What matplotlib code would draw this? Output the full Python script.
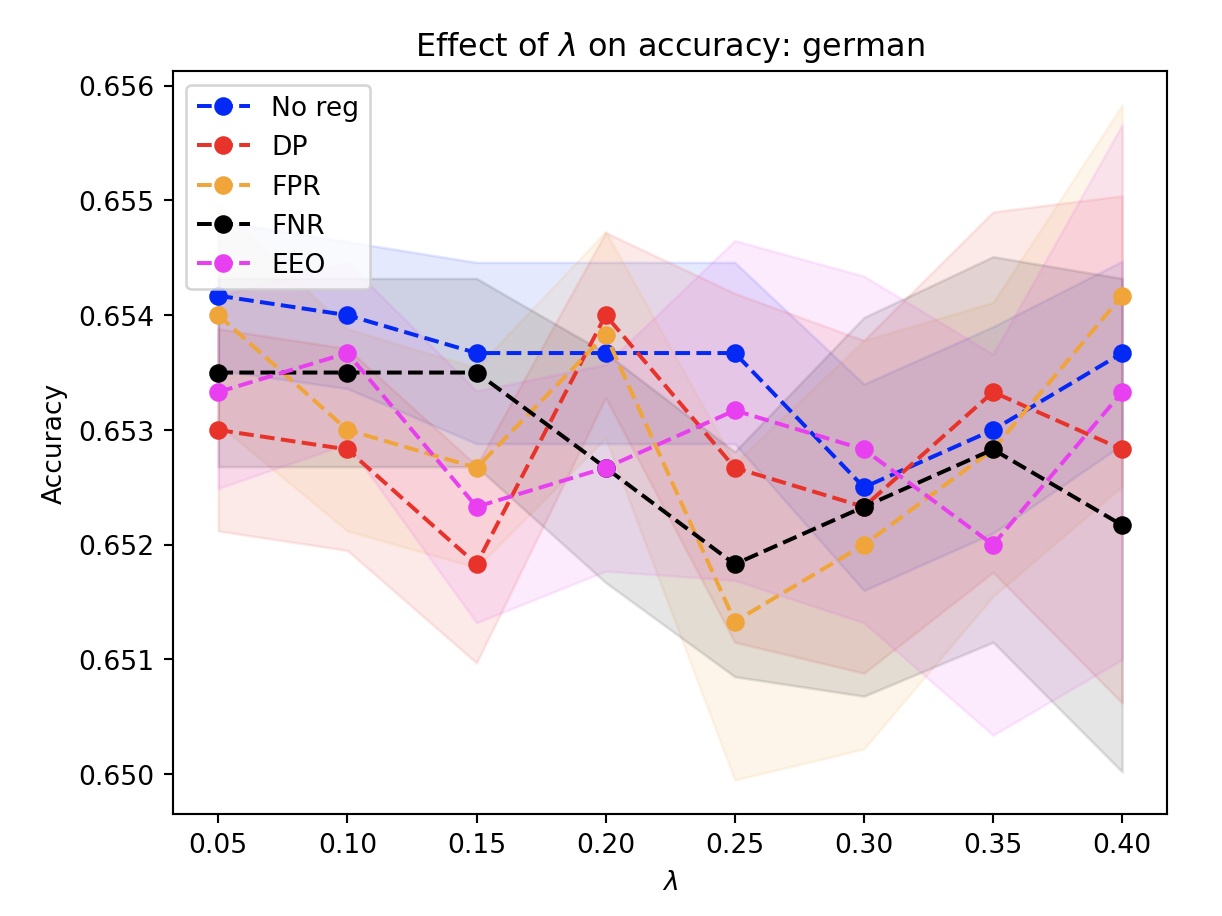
import matplotlib
matplotlib.use("Agg")
import numpy as np
from matplotlib import pyplot as plt

# lambda values and per-method mean / std of accuracy
lambdas = [0.05, 0.10, 0.15, 0.20, 0.25, 0.30, 0.35, 0.40]

noreg_mean = [0.65417, 0.65400, 0.65367, 0.65367, 0.65367, 0.65250, 0.65300, 0.65367]
noreg_std = [0.00065, 0.00064, 0.00079, 0.00079, 0.00079, 0.00090, 0.00090, 0.00080]

dp_mean = [0.65300, 0.65283, 0.65183, 0.65400, 0.65267, 0.65233, 0.65333, 0.65283]
dp_std = [0.00088, 0.00088, 0.00086, 0.00072, 0.00152, 0.00145, 0.00157, 0.00221]

fpr_mean = [0.65400, 0.65300, 0.65267, 0.65383, 0.65133, 0.65200, 0.65283, 0.65417]
fpr_std = [0.00095, 0.00088, 0.00087, 0.00090, 0.00138, 0.00178, 0.00128, 0.00166]

fnr_mean = [0.65350, 0.65350, 0.65350, 0.65267, 0.65183, 0.65233, 0.65283, 0.65217]
fnr_std = [0.00082, 0.00082, 0.00082, 0.00100, 0.00098, 0.00165, 0.00168, 0.00215]

eeo_mean = [0.65333, 0.65367, 0.65233, 0.65267, 0.65317, 0.65283, 0.65200, 0.65333]
eeo_std = [0.00084, 0.00079, 0.00101, 0.00090, 0.00148, 0.00151, 0.00166, 0.00233]

labels = ["No reg", "DP", "FPR", "FNR", "EEO"]
colors = ["#0529f5", "#e8332a", "#f0a53a", "#000000", "#e83ff0"]
means = [noreg_mean, dp_mean, fpr_mean, fnr_mean, eeo_mean]
stds = [noreg_std, dp_std, fpr_std, fnr_std, eeo_std]

fig = plt.figure(figsize=(6.4, 4.8), dpi=191)
ax = fig.add_axes([173 / 1222, 1 - 812 / 914, (1167 - 173) / 1222, (812 - 72) / 914])

for lab, col, m, s in zip(labels, colors, means, stds):
    m = np.array(m)
    s = np.array(s)
    ax.plot(lambdas, m, "--o", color=col, label=lab)
    ax.fill_between(lambdas, m - s, m + s, color=col, alpha=0.1)

ax.set_xticks(lambdas)
ax.set_xticklabels(["%.2f" % v for v in lambdas])
ax.set_xlabel(r"$\lambda$")
ax.set_ylabel("Accuracy")
ax.set_title(r"Effect of $\lambda$ on accuracy: german")
ax.legend(loc="upper left")

fig.savefig("out.png", dpi=191)
